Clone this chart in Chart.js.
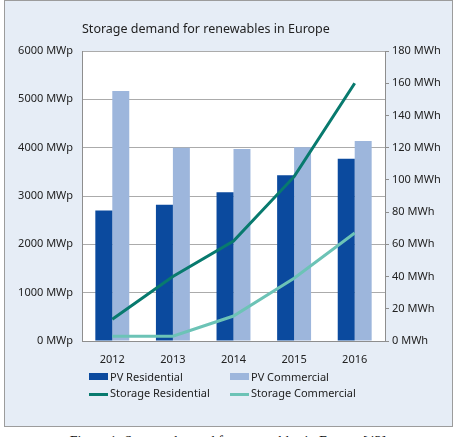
<!DOCTYPE html>
<html>
<head>
<meta charset="utf-8">
<script src="https://cdn.jsdelivr.net/npm/chart.js@4"></script>
<style>
    html, body { margin: 0; padding: 0; background: #ffffff; }
    body { width: 456px; height: 437px; position: relative; overflow: hidden; font-family: "Noto Sans", sans-serif; }
    .panel {
        position: absolute; left: 4px; top: 0; width: 449px; height: 427px;
        box-sizing: border-box; border: 1px solid #9c9c9c; background: #e6edf6;
    }
    .panel canvas { position: absolute; left: 0; top: 0; }
    .legend { position: absolute; left: 0; top: 0; font-size: 11px; color: #222; }
    .legend .item { position: absolute; white-space: nowrap; line-height: 14px; height: 14px; }
    .legend .mark { position: absolute; left: 0; width: 19px; }
    .legend .txt { position: absolute; left: 21px; top: 0; }
    .caption {
        position: absolute; left: 0; width: 456px; top: 434px; text-align: center;
        font-family: "Liberation Serif", "DejaVu Serif", serif; font-size: 14px; line-height: 16px; color: #111;
    }
</style>
</head>
<body>
<div class="panel">
    <canvas id="chartStorage" width="446" height="370"></canvas>
    <div class="legend" id="legend"></div>
</div>
<div class="caption">Figure 1: Storage demand for renewables in Europe [43]</div>

<script>
// Datos
const years = ['2012', '2013', '2014', '2015', '2016'];
const pvResidential = [2700, 2820, 3080, 3430, 3770];
const pvCommercial = [5170, 4000, 3970, 4010, 4140];
const storageResidential = [13.5, 40, 62, 102, 160];
const storageCommercial = [3, 3, 15.5, 39, 67];

// Colores
const C_PV_RES = '#0b4a9e';
const C_PV_COM = '#9db6dc';
const C_ST_RES = '#087a6e';
const C_ST_COM = '#6cc3b6';
const GRID = '#ababab';

Chart.defaults.font.family = '"Noto Sans", sans-serif';
Chart.defaults.font.size = 11;
Chart.defaults.color = '#222222';

// fondo blanco solo dentro del area del grafico
const plotBackground = {
    id: 'plotBackground',
    beforeDraw(chart) {
        const a = chart.chartArea;
        const ctx = chart.ctx;
        ctx.save();
        ctx.fillStyle = '#ffffff';
        ctx.fillRect(a.left, a.top, a.right - a.left, a.bottom - a.top);
        ctx.restore();
    }
};

const ctx = document.getElementById('chartStorage');
new Chart(ctx, {
    data: {
        labels: years,
        datasets: [
            { type: 'line', label: 'Storage Residential', data: storageResidential, yAxisID: 'y1',
              borderColor: C_ST_RES, borderWidth: 3, pointRadius: 0, tension: 0, order: 0 },
            { type: 'line', label: 'Storage Commercial', data: storageCommercial, yAxisID: 'y1',
              borderColor: C_ST_COM, borderWidth: 3, pointRadius: 0, tension: 0, order: 0 },
            { type: 'bar', label: 'PV Residential', data: pvResidential, yAxisID: 'y',
              backgroundColor: C_PV_RES, borderWidth: 0, order: 1,
              categoryPercentage: 0.56, barPercentage: 1.0 },
            { type: 'bar', label: 'PV Commercial', data: pvCommercial, yAxisID: 'y',
              backgroundColor: C_PV_COM, borderWidth: 0, order: 1,
              categoryPercentage: 0.56, barPercentage: 1.0 }
        ]
    },
    options: {
        responsive: false,
        animation: false,
        devicePixelRatio: 1,
        layout: { padding: { top: 0, left: 0, right: 0, bottom: 0 } },
        plugins: {
            legend: { display: false },
            tooltip: { enabled: false },
            title: {
                display: true,
                text: 'Storage demand for renewables in Europe',
                align: 'start',
                fullSize: false,
                color: '#222222',
                font: { size: 12.5, weight: 'normal' },
                padding: { top: 21, bottom: 14 }
            }
        },
        scales: {
            x: {
                afterFit: function (scale) { scale.height = 30; },
                grid: { display: false },
                border: { display: true, color: '#8e8e8e', width: 1 },
                ticks: { padding: 4, font: { size: 11 } }
            },
            y: {
                position: 'left',
                min: 0, max: 6000,
                afterFit: function (scale) { scale.width = 77; },
                ticks: {
                    stepSize: 1000, padding: 9,
                    callback: function (value) { return value + ' MWp'; }
                },
                grid: { color: GRID, drawTicks: false },
                border: { display: true, color: '#8e8e8e', width: 1 }
            },
            y1: {
                position: 'right',
                min: 0, max: 180,
                afterFit: function (scale) { scale.width = 66; },
                ticks: {
                    stepSize: 20, padding: 3,
                    callback: function (value) { return value + ' MWh'; }
                },
                grid: { drawOnChartArea: false, drawTicks: true, tickLength: 4, color: '#8e8e8e' },
                border: { display: true, color: '#8e8e8e', width: 1 }
            }
        }
    },
    plugins: [plotBackground]
});

// Leyenda en dos columnas
const legendItems = [
    { label: 'PV Residential', color: C_PV_RES, kind: 'box', x: 84, y: 369 },
    { label: 'PV Commercial', color: C_PV_COM, kind: 'box', x: 225, y: 369 },
    { label: 'Storage Residential', color: C_ST_RES, kind: 'line', x: 84, y: 385 },
    { label: 'Storage Commercial', color: C_ST_COM, kind: 'line', x: 225, y: 385 }
];
const legendEl = document.getElementById('legend');
legendItems.forEach(item => {
    const div = document.createElement('div');
    div.className = 'item';
    div.style.left = item.x + 'px';
    div.style.top = item.y + 'px';
    const mark = document.createElement('span');
    mark.className = 'mark';
    mark.style.background = item.color;
    if (item.kind === 'box') { mark.style.top = '3px'; mark.style.height = '7px'; }
    else { mark.style.top = '7px'; mark.style.height = '3px'; }
    const txt = document.createElement('span');
    txt.className = 'txt';
    txt.textContent = item.label;
    div.appendChild(mark);
    div.appendChild(txt);
    legendEl.appendChild(div);
});
</script>
</body>
</html>
